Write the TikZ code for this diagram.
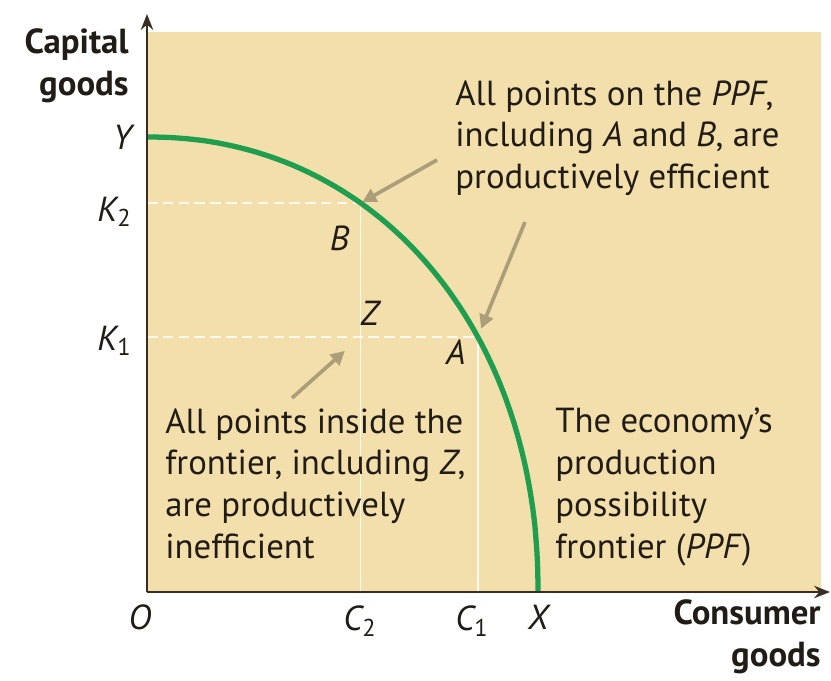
\documentclass[tikz,border=0pt]{standalone}
\usepackage{fontspec}
\setmainfont{PT Sans}
\usepackage{tikz}
\usetikzlibrary{arrows.meta,calc,positioning}
\definecolor{plotbg}{HTML}{F3DFAB}
\definecolor{ppfgreen}{HTML}{1F9E50}
\definecolor{pointertan}{HTML}{AC9E78}
\definecolor{inkdark}{HTML}{221C17}
\definecolor{axisdark}{HTML}{3A2E22}
\newcommand{\notefont}{\fontsize{19.8}{23.8}\selectfont}

\begin{document}
\begin{tikzpicture}[x=0.02cm,y=-0.02cm,
  axis/.style={line width=1.5pt,draw=axisdark,-{Stealth[length=9pt,width=7pt]}},
  ppf/.style={line width=3pt,draw=ppfgreen},
  guide/.style={draw=white!80!plotbg,line width=1pt,dash pattern=on 6pt off 3pt},
  guidev/.style={draw=white!85!plotbg,line width=0.9pt},
  pointer/.style={draw=pointertan,line width=2.1pt,-{Triangle[length=8pt,width=8pt]}},
  lbl/.style={font=\notefont\itshape,text=inkdark,inner sep=0pt},
  note/.style={align=left,anchor=north west,inner sep=0pt,font=\notefont,text=inkdark},
  axtitle/.style={align=right,anchor=east,inner sep=0pt,font=\notefont\bfseries,text=inkdark},
]
\useasboundingbox (0,0) rectangle (831,680);
% PLOT AREA
\fill[plotbg] (148,32) rectangle (821,591);

% KEY POINTS (on the frontier)
\coordinate (orig) at (147,592);
\coordinate (ptY) at (147,137);
\coordinate (ptX) at (538,592);
\coordinate (ptB) at ({147+391*pow(cos(58),0.952)},{592-455*pow(sin(58),0.952)});
\coordinate (ptA) at ({147+391*pow(cos(33),0.952)},{592-455*pow(sin(33),0.952)});
\coordinate (ptZ) at (ptB |- ptA);

% GUIDE LINES
\draw[guide] (orig |- ptB) -- (ptB);
\draw[guide] (orig |- ptA) -- (ptA);
\draw[guidev] (orig -| ptB) -- (ptB);
\draw[guidev] (orig -| ptA) -- (ptA);

% FRONTIER
\draw[ppf] (ptY) -- plot[domain=89.5:0.5,samples=80,variable=\t]
  ({147+391*pow(cos(\t),0.952)},{592-455*pow(sin(\t),0.952)}) -- (ptX);

% AXES
\draw[axis] (orig) -- (147,14);
\draw[axis] (orig) -- (830,592);
\node[axtitle] (ytitle) at (129,66) {Capital\\goods};
\node[axtitle] (xtitle) at (821,637) {Consumer\\goods};

% AXIS LABELS
\node[lbl] (labO) at (140,617) {O};
\node[lbl,anchor=east] (labY) at (132,137) {Y};
\node[lbl,anchor=east] (labK2) at (132,212) {K\textsubscript{\upshape 2}};
\node[lbl,anchor=east] (labK1) at (132,341) {K\textsubscript{\upshape 1}};
\node[lbl] (labC2) at (360,621) {C\textsubscript{\upshape 2}};
\node[lbl] (labC1) at (472,621) {C\textsubscript{\upshape 1}};
\node[lbl] (labX) at (538,617) {X};

% POINT LABELS
\node[lbl] (labB) at ($(ptB)+(-21,35)$) {B};
\node[lbl] (labZ) at ($(ptZ)+(9,-24)$) {Z};
\node[lbl] (labA) at ($(ptA)+(-22,15)$) {A};

% NOTES
\node[note] (effnote) at (455,80) {All points on the \textit{PPF},\\including \textit{A} and \textit{B}, are\\productively efficient};
\node[note] (inefnote) at (165,408) {All points inside the\\frontier, including \textit{Z},\\are productively\\inefficient};
\node[note] (ppfnote) at (555,408) {The economy’s\\production\\possibility\\frontier (\textit{PPF})};

% POINTERS
\coordinate (effTailB) at (437,160);
\coordinate (effTailA) at (525,222);
\coordinate (inefTail) at (292,398);
\draw[pointer,shorten >=1pt] (effTailB) -- (ptB);
\draw[pointer,shorten >=5pt] (effTailA) -- (ptA);
\draw[pointer,shorten >=12pt] (inefTail) -- (ptZ);
\end{tikzpicture}
\end{document}
